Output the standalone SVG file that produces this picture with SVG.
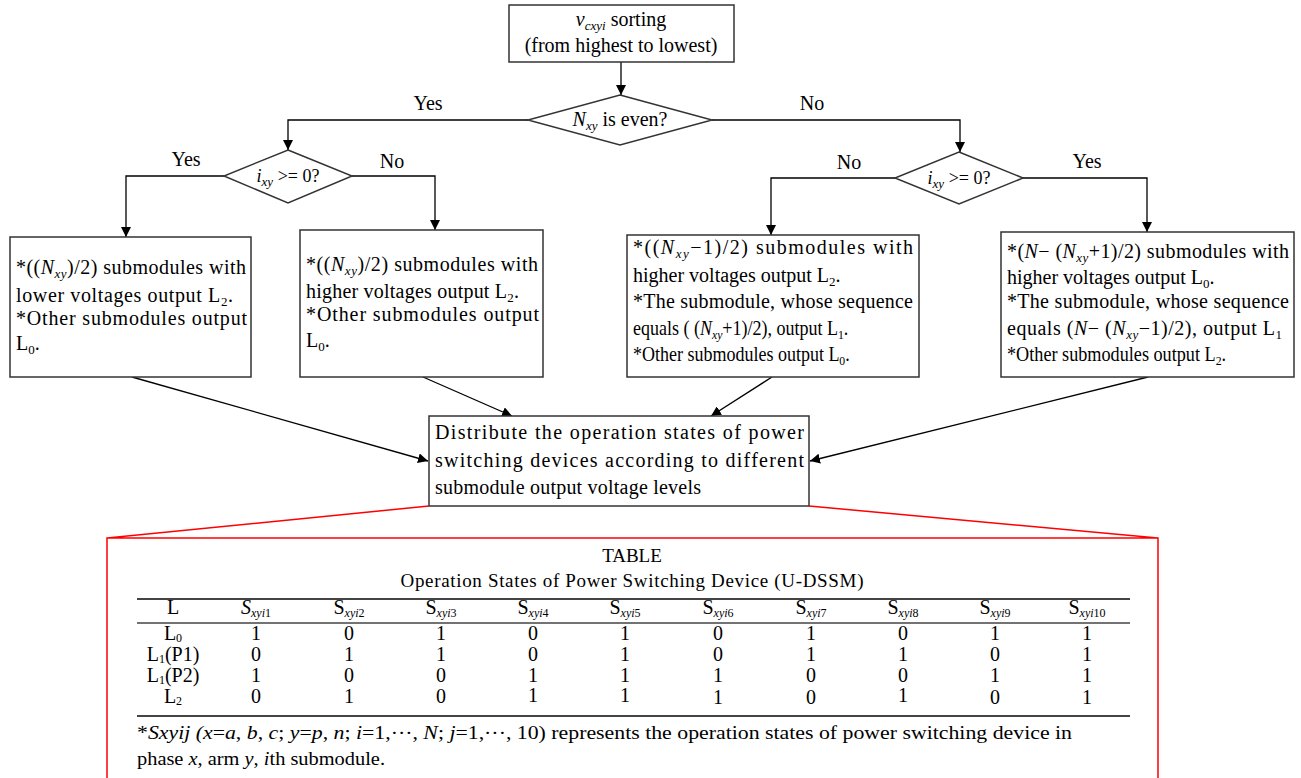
<svg xmlns="http://www.w3.org/2000/svg" width="1301" height="778" viewBox="0 0 1301 778">
<style>
text{font-family:"Liberation Serif","Times New Roman",serif;font-size:20px;fill:#000}
.nd{fill:#fff;stroke:#333;stroke-width:1.5}
.c{fill:none;stroke:#000;stroke-width:1.3}
.red{fill:none;stroke:#f00;stroke-width:1.5}
.rule{stroke:#444}
.t{font-size:18px;text-anchor:middle}
.i{font-style:italic}
.s{font-size:13px}
.ts{font-size:12px}
</style>
<defs>
<marker id="ah" viewBox="0 0 10 10" refX="10" refY="5" markerWidth="10" markerHeight="10" markerUnits="userSpaceOnUse" orient="auto">
<path d="M0,0 L10,5 L0,10 z" fill="#000"/>
</marker>
</defs>
<rect width="1301" height="778" fill="#fff"/>

<g id="connectors">
<path class="c" d="M621,62 V95" marker-end="url(#ah)"/>
<path class="c" d="M528,120 H288 V150" marker-end="url(#ah)"/>
<path class="c" d="M712,120 H960 V152" marker-end="url(#ah)"/>
<path class="c" d="M224,176 H126 V237" marker-end="url(#ah)"/>
<path class="c" d="M352,176 H435 V230" marker-end="url(#ah)"/>
<path class="c" d="M895,178 H771 V235" marker-end="url(#ah)"/>
<path class="c" d="M1023,178 H1147 V232" marker-end="url(#ah)"/>
<path class="c" d="M132,377 L428,461" marker-end="url(#ah)"/>
<path class="c" d="M423,377 L512,416" marker-end="url(#ah)"/>
<path class="c" d="M772,377 L711,416" marker-end="url(#ah)"/>
<path class="c" d="M1148,377 L810,461" marker-end="url(#ah)"/>
<text x="428" y="110" text-anchor="middle">Yes</text>
<text x="812" y="110" text-anchor="middle">No</text>
<text x="186" y="166" text-anchor="middle">Yes</text>
<text x="392" y="168" text-anchor="middle">No</text>
<text x="849" y="169" text-anchor="middle">No</text>
<text x="1087" y="168" text-anchor="middle">Yes</text>
</g>

<g id="sorting">
<rect class="nd" x="509" y="5" width="225" height="57"/>
<text x="621" y="26" text-anchor="middle"><tspan class="i">v</tspan><tspan class="i s" dy="4">cxyi</tspan><tspan dy="-4"> sorting</tspan></text>
<text x="621" y="52" text-anchor="middle">(from highest to lowest)</text>
</g>

<g id="even">
<polygon class="nd" points="620,95 712,120 620,145 528,120"/>
<text x="620" y="126" text-anchor="middle"><tspan class="i">N</tspan><tspan class="i s" dy="4">xy</tspan><tspan dy="-4"> is even?</tspan></text>
</g>

<g id="ixyLeft">
<polygon class="nd" points="288,150 352,176 288,203 224,176"/>
<text x="288" y="182" text-anchor="middle" style="font-size:18px"><tspan class="i">i</tspan><tspan class="i s" dy="4">xy</tspan><tspan dy="-4"> &gt;= 0?</tspan></text>
</g>

<g id="ixyRight">
<polygon class="nd" points="959,152 1023,178 959,204 895,178"/>
<text x="959" y="184" text-anchor="middle" style="font-size:18px"><tspan class="i">i</tspan><tspan class="i s" dy="4">xy</tspan><tspan dy="-4"> &gt;= 0?</tspan></text>
</g>

<g id="box1">
<rect class="nd" x="10" y="237" width="241" height="140"/>
<text x="16" y="274" textLength="230" lengthAdjust="spacing">*((<tspan class="i">N</tspan><tspan class="i s" dy="4">xy</tspan><tspan dy="-4">)/2) submodules with</tspan></text>
<text x="16" y="302" textLength="217" lengthAdjust="spacing">lower voltages output L<tspan class="s" dy="4">2</tspan><tspan dy="-4">.</tspan></text>
<text x="16" y="325" textLength="231" lengthAdjust="spacing">*Other submodules output</text>
<text x="16" y="350">L<tspan class="s" dy="4">0</tspan><tspan dy="-4">.</tspan></text>
</g>

<g id="box2">
<rect class="nd" x="300" y="230" width="243" height="147"/>
<text x="306" y="271" textLength="232" lengthAdjust="spacing">*((<tspan class="i">N</tspan><tspan class="i s" dy="4">xy</tspan><tspan dy="-4">)/2) submodules with</tspan></text>
<text x="306" y="298" textLength="213" lengthAdjust="spacing">higher voltages output L<tspan class="s" dy="4">2</tspan><tspan dy="-4">.</tspan></text>
<text x="306" y="321" textLength="233" lengthAdjust="spacing">*Other submodules output</text>
<text x="306" y="347">L<tspan class="s" dy="4">0</tspan><tspan dy="-4">.</tspan></text>
</g>

<g id="box3">
<rect class="nd" x="627" y="235" width="292" height="142"/>
<text x="633" y="254" textLength="280" lengthAdjust="spacing">*((<tspan class="i">N</tspan><tspan class="i s" dy="4">xy</tspan><tspan dy="-4">−1)/2) submodules with</tspan></text>
<text x="633" y="282">higher voltages output L<tspan class="s" dy="4">2</tspan><tspan dy="-4">.</tspan></text>
<text x="633" y="308" textLength="280" lengthAdjust="spacing">*The submodule, whose sequence</text>
<text transform="translate(633,335) scale(0.9,1)" x="0" y="0">equals ( (<tspan class="i">N</tspan><tspan class="i s" dy="4">xy</tspan><tspan dy="-4">+1)/2),  output L</tspan><tspan class="s" dy="4">1</tspan><tspan dy="-4">.</tspan></text>
<text transform="translate(633,361) scale(0.9,1)" x="0" y="0">*Other submodules output L<tspan class="s" dy="4">0</tspan><tspan dy="-4">.</tspan></text>
</g>

<g id="box4">
<rect class="nd" x="1001" y="232" width="293" height="145"/>
<text x="1007" y="258" textLength="282" lengthAdjust="spacing">*(<tspan class="i">N</tspan>− (<tspan class="i">N</tspan><tspan class="i s" dy="4">xy</tspan><tspan dy="-4">+1)/2) submodules with</tspan></text>
<text x="1007" y="284">higher voltages output L<tspan class="s" dy="4">0</tspan><tspan dy="-4">.</tspan></text>
<text x="1007" y="308" textLength="282" lengthAdjust="spacing">*The submodule, whose sequence</text>
<text x="1007" y="335" textLength="275" lengthAdjust="spacing">equals (<tspan class="i">N</tspan>− (<tspan class="i">N</tspan><tspan class="i s" dy="4">xy</tspan><tspan dy="-4">−1)/2),  output L</tspan><tspan class="s" dy="4">1</tspan></text>
<text transform="translate(1007,361) scale(0.91,1)" x="0" y="0">*Other submodules output L<tspan class="s" dy="4">2</tspan><tspan dy="-4">.</tspan></text>
</g>

<g id="distribute">
<rect class="nd" x="429" y="416" width="380" height="90"/>
<text x="435" y="439" textLength="369" lengthAdjust="spacing">Distribute the operation states of power</text>
<text x="435" y="467" textLength="369" lengthAdjust="spacing">switching devices according to different</text>
<text x="435" y="494" textLength="266" lengthAdjust="spacing">submodule output voltage levels</text>
</g>

<g id="table">
<path class="red" d="M429,506 L107,538 M809,506 L1158,538 M107,790 V538 H1158 V790"/>
<text x="632" y="562" text-anchor="middle" style="font-size:19px">TABLE</text>
<text x="632" y="587" text-anchor="middle" style="font-size:19px" textLength="463" lengthAdjust="spacing">Operation States of Power Switching Device (U-DSSM)</text>
<line class="rule" x1="137" y1="599" x2="1130" y2="599" stroke-width="2.2"/>
<line class="rule" x1="137" y1="623" x2="1130" y2="623" stroke-width="1.6"/>
<line class="rule" x1="137" y1="716" x2="1130" y2="716" stroke-width="2.2"/>
<g class="t">
<text x="173" y="614">L</text>
<text x="256" y="614"><tspan class="i">S</tspan><tspan class="i ts" dy="3">xyi</tspan><tspan class="ts">1</tspan></text>
<text x="349" y="614">S<tspan class="i ts" dy="3">xyi</tspan><tspan class="ts">2</tspan></text>
<text x="441" y="614">S<tspan class="i ts" dy="3">xyi</tspan><tspan class="ts">3</tspan></text>
<text x="533" y="614">S<tspan class="i ts" dy="3">xyi</tspan><tspan class="ts">4</tspan></text>
<text x="625" y="614">S<tspan class="i ts" dy="3">xyi</tspan><tspan class="ts">5</tspan></text>
<text x="718" y="614">S<tspan class="i ts" dy="3">xyi</tspan><tspan class="ts">6</tspan></text>
<text x="811" y="614">S<tspan class="i ts" dy="3">xyi</tspan><tspan class="ts">7</tspan></text>
<text x="903" y="614">S<tspan class="i ts" dy="3">xyi</tspan><tspan class="ts">8</tspan></text>
<text x="995" y="614">S<tspan class="i ts" dy="3">xyi</tspan><tspan class="ts">9</tspan></text>
<text x="1087" y="614">S<tspan class="i ts" dy="3">xyi</tspan><tspan class="ts">10</tspan></text>

<text x="173" y="640">L<tspan class="ts" dy="2">0</tspan></text>
<text x="173" y="661">L<tspan class="ts" dy="2">1</tspan><tspan dy="-2">(P1)</tspan></text>
<text x="173" y="682">L<tspan class="ts" dy="2">1</tspan><tspan dy="-2">(P2)</tspan></text>
<text x="173" y="703">L<tspan class="ts" dy="2">2</tspan></text>

<text x="256" y="640">1</text><text x="349" y="640">0</text><text x="441" y="640">1</text><text x="533" y="640">0</text><text x="625" y="640">1</text><text x="718" y="640">0</text><text x="811" y="640">1</text><text x="903" y="640">0</text><text x="995" y="640">1</text><text x="1087" y="640">1</text>
<text x="256" y="661">0</text><text x="349" y="661">1</text><text x="441" y="661">1</text><text x="533" y="661">0</text><text x="625" y="661">1</text><text x="718" y="661">0</text><text x="811" y="661">1</text><text x="903" y="661">1</text><text x="995" y="661">0</text><text x="1087" y="661">1</text>
<text x="256" y="682">1</text><text x="349" y="682">0</text><text x="441" y="682">0</text><text x="533" y="682">1</text><text x="625" y="682">1</text><text x="718" y="682">1</text><text x="811" y="682">0</text><text x="903" y="682">0</text><text x="995" y="682">1</text><text x="1087" y="682">1</text>
<text x="256" y="703">0</text><text x="349" y="703">1</text><text x="441" y="703">0</text><text x="533" y="702">1</text><text x="625" y="702">1</text><text x="718" y="704">1</text><text x="811" y="704">0</text><text x="903" y="702">1</text><text x="995" y="704">0</text><text x="1087" y="704">1</text>
</g>
<text x="137" y="739" style="font-size:19px" textLength="935" lengthAdjust="spacingAndGlyphs">*<tspan class="i">Sxyij (x</tspan>=<tspan class="i">a</tspan>, <tspan class="i">b</tspan>, <tspan class="i">c</tspan>; <tspan class="i">y</tspan>=<tspan class="i">p</tspan>, <tspan class="i">n</tspan>; <tspan class="i">i</tspan>=1,···, <tspan class="i">N</tspan>; <tspan class="i">j</tspan>=1,···, 10) represents the operation states of power switching device in</text>
<text x="137" y="765" style="font-size:19px" textLength="248" lengthAdjust="spacingAndGlyphs">phase <tspan class="i">x</tspan>, arm <tspan class="i">y</tspan>, <tspan class="i">i</tspan>th submodule.</text>
</g>
</svg>
